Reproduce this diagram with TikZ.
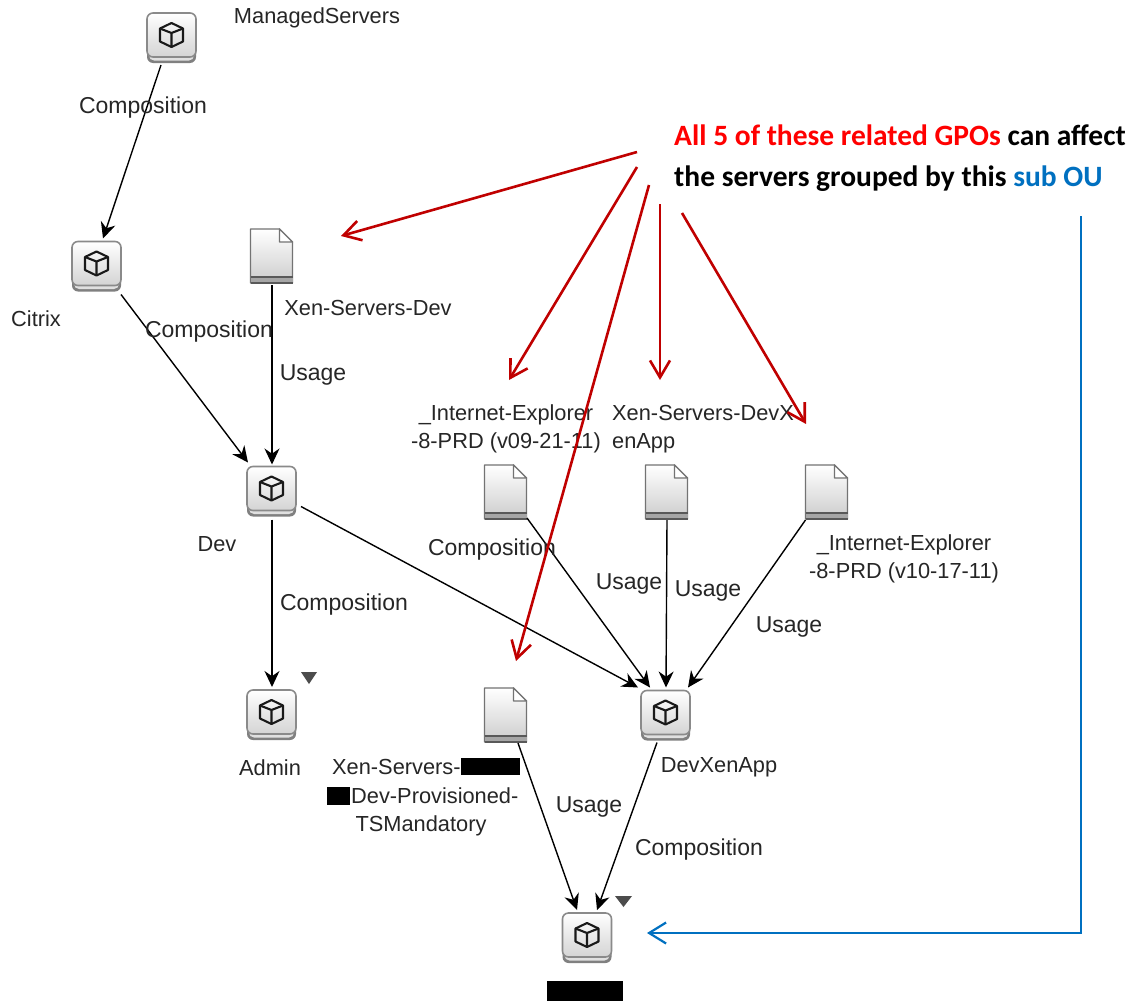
\documentclass[tikz,border=0pt]{standalone}
\usepackage{fontspec}
\setmainfont{Liberation Sans}
\newfontfamily\calloutfont{Carlito}
\usetikzlibrary{calc,arrows.meta}
\definecolor{arrowred}{HTML}{C00000}
\definecolor{ablue}{HTML}{0070C0}
\definecolor{iconedge}{HTML}{8A8A8A}
\tikzset{
  iconbox/.style={minimum width=49pt,minimum height=50pt,inner sep=0pt,outer sep=0pt},
  docbox/.style={minimum width=43pt,minimum height=54pt,inner sep=0pt,outer sep=0pt},
  lbl/.style={inner sep=0pt,yshift=-1pt,font=\fontsize{21.8}{28.5}\selectfont,text=black!85,align=center},
  lblw/.style={lbl,font=\fontsize{23}{28.5}\selectfont},
  lblleft/.style={lbl,align=left,anchor=west},
  conn/.style={draw=black,line width=1.4pt,-{Stealth[length=16pt,width=15pt]}},
  redarrow/.style={draw=arrowred,line width=2.6pt,-{Straight Barb[length=17pt,width=20pt,line width=2.6pt]}},
  bluearrow/.style={draw=ablue,line width=2.2pt,-{Straight Barb[length=17pt,width=21pt,line width=2.2pt]}},
  callout/.style={inner sep=0pt,anchor=west,font=\calloutfont\bfseries\fontsize{29.5}{34}\selectfont},
  redact/.style={fill=black,draw=none},
  tri/.style={fill=black!70,draw=none},
}
\newcommand{\cubeicon}[3]{%
  \node[iconbox] (#1) at (#2,#3) {};
  \begin{scope}[shift={(#2,#3)}]
    \fill[rounded corners=6pt,fill=black!50] (-24.5,-20) rectangle (24.5,25);
    \fill[rounded corners=5pt,fill=black!12] (-22.5,-20) rectangle (22.5,22.5);
    \draw[rounded corners=6pt,draw=iconedge,line width=1.6pt,top color=white,bottom color=black!17] (-24.5,-25) rectangle (24.5,19);
    \begin{scope}[yshift=3pt]
    \draw[black!90,line width=2.1pt,line join=round] (-11.5,-6.5) -- (0,-12) -- (11.5,-6.5) -- (11.5,6.5) -- (0,12) -- (-11.5,6.5) -- cycle;
    \draw[black!90,line width=2.1pt,line join=round] (-11.5,-6.5) -- (0,-2) -- (11.5,-6.5) (0,-2) -- (0,12);
    \end{scope}
  \end{scope}}
\newcommand{\docicon}[3]{%
  \node[docbox] (#1) at (#2,#3) {};
  \begin{scope}[shift={(#2,#3)}]
    \draw[draw=black!55,line width=1.4pt,top color=white,bottom color=black!20,line join=round] (-21,-27) -- (8,-27) -- (21,-14) -- (21,27) -- (-21,27) -- cycle;
    \draw[draw=black!55,line width=1.4pt,fill=white,line join=round] (8,-27) -- (8,-14) -- (21,-14) -- cycle;
    \fill[black!35] (-21,21) rectangle (21,27);
    \draw[black!65,line width=1.4pt] (-21,21) -- (21,21) (-21,27) -- (21,27);
  \end{scope}}
\begin{document}
\begin{tikzpicture}[x=1pt,y=-1pt]
\useasboundingbox (0,0) rectangle (1132,1001);
\fill[white] (0,0) rectangle (1132,1001);
% icons
\cubeicon{ms}{171.5}{38}
\cubeicon{citrix}{96.5}{266.5}
\cubeicon{dev}{271.5}{491.5}
\cubeicon{admin}{271.5}{715}
\cubeicon{dxa}{665.5}{715.5}
\cubeicon{leaf}{587}{938}
\docicon{xsd}{271.5}{256}
\docicon{ie}{505.5}{492}
\docicon{dxd}{666.5}{492}
\docicon{ieb}{826.5}{492}
\docicon{mand}{505.5}{715}
% connectors
\draw[conn] ($(ms.south)+(-10.5,2)$) -- ($(citrix.north)+(6.5,-3)$);
\draw[conn] ($(citrix.south)+(24.5,3)$) -- ($(dev.north)+(-23.5,-4)$);
\draw[conn] ($(xsd.south)+(0.5,2)$) -- ($(dev.north)+(0.5,-2)$);
\draw[conn] ($(dev.south)+(0.5,3)$) -- ($(admin.north)+(0.5,-3)$);
\draw[conn] ($(dev.east)+(5,15)$) -- ($(dxa.north west)+(-3,-3)$);
\draw[conn] ($(ie.south east)+(0,-1)$) -- ($(dxa.north)+(-15.5,-3)$);
\draw[conn] ($(dxd.south)+(0.5,1)$) -- ($(dxa.north)+(0.5,-3)$);
\draw[conn] ($(ieb.south west)+(0.5,1)$) -- ($(dxa.north)+(22.5,-3)$);
\draw[conn] ($(mand.south)+(12.5,1)$) -- ($(leaf.north)+(-10,-3)$);
\draw[conn] ($(dxa.south)+(-8.5,2)$) -- ($(leaf.north)+(10,-3)$);
% labels
\node[lbl] (lms) at (317,17) {ManagedServers};
\node[lblw] (lc1) at (143,107) {Composition};
\node[lbl] (lcit) at (36,318) {Citrix};
\node[lblw] (lc2) at (209,331) {Composition};
\node[lbl] (lxsd) at (368,307) {Xen-Servers-Dev};
\node[lblw] (lu1) at (313,374) {Usage};
\node[lbl] (lie) at (506,428) {\_Internet-Explorer\\-8-PRD (v09-21-11)};
\node[lblleft] (ldxd) at (612,428) {Xen-Servers-DevX\\enApp};
\node[lblw] (lc3) at (492,549) {Composition};
\node[lblw] (lu2) at (629,583) {Usage};
\node[lblw] (lu3) at (708,590) {Usage};
\node[lblw] (lu4) at (789,626) {Usage};
\node[lbl] (lieb) at (904,558) {\_Internet-Explorer\\-8-PRD (v10-17-11)};
\node[lbl] (ldev) at (217,543) {Dev};
\node[lblw] (lc4) at (344,604) {Composition};
\node[lbl] (ladm) at (270,767) {Admin};
\node[lblleft] (lm1) at (332,766) {Xen-Servers-};
\node[lblleft] (lm2) at (351,795) {Dev-Provisioned-};
\node[lbl] (lm3) at (421,825) {TSMandatory};
\node[lbl] (ldxa) at (719,766) {DevXenApp};
\node[lblw] (lu5) at (589,806) {Usage};
\node[lblw] (lc5) at (699,849) {Composition};
% redactions and triangles
\fill[redact] (461,758) rectangle (520,775);
\fill[redact] (327,787) rectangle (350,805);
\fill[redact] (547,981) rectangle (623,1001);
\fill[tri] (301,672) -- (317,672) -- (309,684) -- cycle;
\fill[tri] (615,896) -- (632,896) -- (623.5,907) -- cycle;
% callout
\node[callout] (t1) at (674,135) {\textcolor{red}{All 5 of these related GPOs} can affect};
\node[callout] (t2) at (674,179) {the servers grouped by this \textcolor{ablue}{sub OU}};
\coordinate (r1s) at (637,152); \coordinate (r1e) at (341,236);
\coordinate (r2s) at (637,167); \coordinate (r2e) at (509,380);
\coordinate (r3s) at (649,185); \coordinate (r3e) at (516,661);
\coordinate (r4s) at (660,204); \coordinate (r4e) at (660,380);
\coordinate (r5s) at (682,213); \coordinate (r5e) at (806,424);
\draw[redarrow] (r1s) -- (r1e);
\draw[redarrow] (r2s) -- (r2e);
\draw[redarrow] (r3s) -- (r3e);
\draw[redarrow] (r4s) -- (r4e);
\draw[redarrow] (r5s) -- (r5e);
\coordinate (b1) at (1081,216);
\coordinate (b2) at (1081,933);
\coordinate (b3) at (647,933);
\draw[bluearrow] (b1) -- (b2) -- (b3);
\end{tikzpicture}
\end{document}
